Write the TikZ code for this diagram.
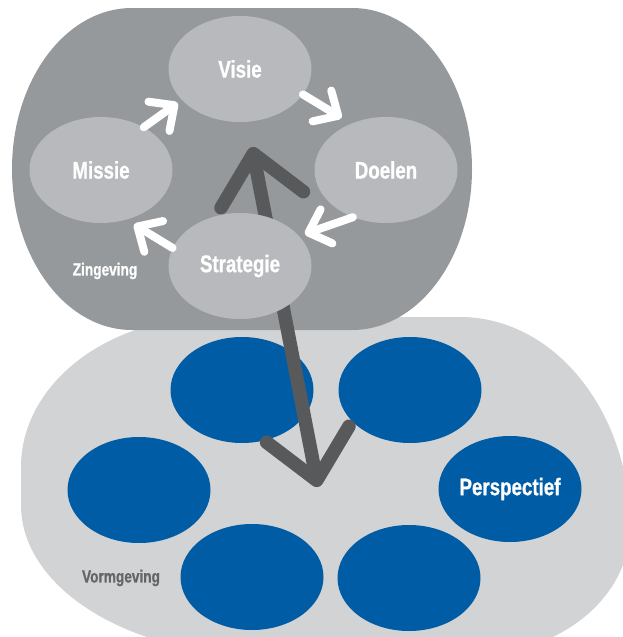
\documentclass[tikz,border=0pt]{standalone}
\usepackage{fontspec}
\newfontfamily\labelfont{Liberation Sans}[FakeStretch=0.78, BoldFeatures={FakeBold=0.8}]
\usetikzlibrary{shapes.geometric,arrows.meta}

\definecolor{blobdark}{HTML}{96999C}
\definecolor{blobpale}{HTML}{D1D3D4}
\definecolor{bubblegrey}{HTML}{B7B9BC}
\definecolor{bubbleblue}{HTML}{005CA4}
\definecolor{linkgrey}{HTML}{58595B}
\definecolor{captiongrey}{HTML}{646567}

\begin{document}
\begin{tikzpicture}[x=1pt, y=-1pt,
    bubble/.style={ellipse, inner sep=0pt, minimum width=143pt, minimum height=106pt, text=white, font=\labelfont\bfseries\fontsize{24}{26}\selectfont},
    greybubble/.style={bubble, fill=bubblegrey},
    bluebubble/.style={bubble, fill=bubbleblue},
    caption/.style={inner sep=0pt, font=\labelfont\bfseries\fontsize{17.5}{20}\selectfont},
    cyclearrow/.style={white, line width=8pt, line cap=round, -{Straight Barb[length=19pt, width=36pt, round]}},
    linkarrow/.style={linkgrey, line width=13.5pt, line cap=round, {Straight Barb[length=47pt, width=84pt, round]}-{Straight Barb[length=47pt, width=84pt, round]}}]
    \useasboundingbox (0,0) rectangle (623,637);
    \clip (0,0) rectangle (623,637);

    % the two areas
    \fill[blobpale] (214,317) -- (460,317) arc[start angle=270, end angle=360, x radius=170, y radius=210] -- (630,527)
        arc[start angle=0, end angle=90, x radius=158, y radius=128] -- (261,655)
        arc[start angle=90, end angle=180, x radius=240, y radius=150] -- (21,467)
        arc[start angle=180, end angle=270, x radius=193, y radius=150] -- cycle;
    \fill[blobdark] (132,8) -- (352,8) arc[start angle=270, end angle=450, x radius=120, y radius=161]
        -- (132,330) arc[start angle=90, end angle=270, x radius=120, y radius=161] -- cycle;

    % vormgeving
    \node [bluebubble] (B1) at (242,390) {};
    \node [bluebubble] (B2) at (410,390) {};
    \node [bluebubble] (B3) at (139,490) {};
    \node [bluebubble] (perspectief) at (510,489) {Perspectief};
    \node [bluebubble] (B5) at (252,577) {};
    \node [bluebubble] (B6) at (409,578) {};
    \node [caption, text=captiongrey] (vormgeving) at (121,578) {Vormgeving};

    \coordinate (linktop) at (252,147);
    \coordinate (linkbottom) at (318,487);
    \draw [linkarrow] (linktop) -- (linkbottom);

    % zingeving
    \node [greybubble] (visie) at (240,69) {Visie};
    \node [greybubble] (missie) at (101,170) {Missie};
    \node [greybubble] (doelen) at (386,170) {Doelen};
    \node [greybubble] (strategie) at (240,266) {Strategie};
    \node [caption, text=white] (zingeving) at (105,271) {Zingeving};

    \draw [cyclearrow, shorten >=5pt] (missie.45) -- (visie.208);
    \draw [cyclearrow, shorten >=11pt] (visie.-22) -- (doelen.127);
    \draw [cyclearrow, shorten >=6pt] (doelen.235) -- (strategie.27);
    \draw [cyclearrow, shorten >=9pt] (strategie.165) -- (missie.-63);
\end{tikzpicture}
\end{document}
